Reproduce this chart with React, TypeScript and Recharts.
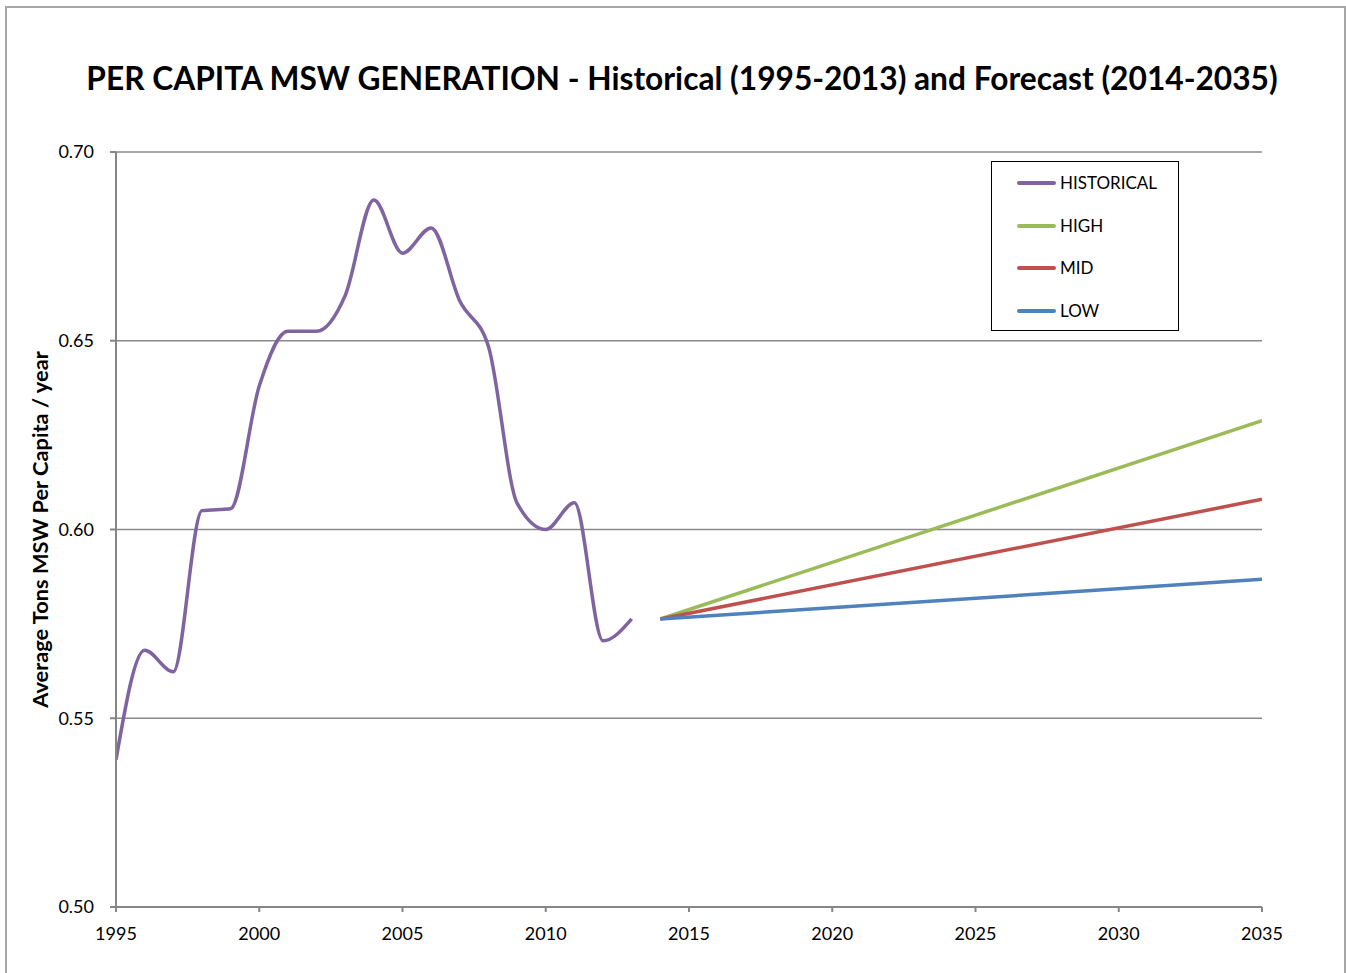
import React from 'react';
import { LineChart, Line, XAxis, YAxis, CartesianGrid, Legend } from 'recharts';

const historicalYears = [1995, 1996, 1997, 1998, 1999, 2000, 2001, 2002, 2003, 2004, 2005, 2006, 2007, 2008, 2009, 2010, 2011, 2012, 2013];
const historicalValues = [0.539, 0.568, 0.5623, 0.605, 0.6055, 0.638, 0.6525, 0.6525, 0.662, 0.6873, 0.6732, 0.6799, 0.6605, 0.6485, 0.607, 0.6, 0.6071, 0.5705, 0.5763];
const forecastYears = [2014, 2035];
const highValues = [0.5763, 0.6288];
const midValues = [0.5763, 0.608];
const lowValues = [0.5763, 0.5868];
const xTicks = [1995, 2000, 2005, 2010, 2015, 2020, 2025, 2030, 2035];
const yTicks = [0.5, 0.55, 0.6, 0.65, 0.7];

const seriesNames = ['HISTORICAL', 'HIGH', 'MID', 'LOW'];
const seriesColors = ['#8064A2', '#9BBB59', '#C0504D', '#4F81BD'];

const toData = (years: number[], vals: number[]) => years.map((y, i) => ({ year: y, value: vals[i] }));
const historicalData = toData(historicalYears, historicalValues);
const highData = toData(forecastYears, highValues);
const midData = toData(forecastYears, midValues);
const lowData = toData(forecastYears, lowValues);

const FONT = 'Lato, "Open Sans", sans-serif';

const LegendBox = () => (
  <div
    style={{
      width: 188,
      height: 170,
      boxSizing: 'border-box',
      border: '1.5px solid #000',
      background: '#fff',
      position: 'relative',
      fontFamily: FONT,
    }}
  >
    {seriesNames.map((n, i) => (
      <div key={n} style={{ position: 'absolute', left: 25, top: 21 + i * 42.5 - 10, height: 20, display: 'flex', alignItems: 'center' }}>
        <div style={{ width: 39, height: 4, borderRadius: 2, background: seriesColors[i] }} />
        <span style={{ marginLeft: 4, fontSize: 17, color: '#000', lineHeight: '20px' }}>{n}</span>
      </div>
    ))}
  </div>
);

export default function App() {
  return (
    <div style={{ position: 'absolute', left: 0, top: 0, width: 1346, height: 973, overflow: 'hidden', background: '#fff' }}>
      <div style={{ position: 'absolute', left: 5, top: 6, width: 1341, height: 1000, border: '2px solid #a6a6a6', boxSizing: 'border-box' }} />
      <div
        style={{
          position: 'absolute',
          left: 0,
          top: 59,
          width: 1364,
          textAlign: 'center',
          fontFamily: FONT,
          fontWeight: 700,
          fontSize: 31.7,
          color: '#000',
          whiteSpace: 'nowrap',
        }}
      >
        PER CAPITA MSW GENERATION - Historical (1995-2013) and Forecast (2014-2035)
      </div>
      <div style={{ position: 'absolute', left: 0, top: 0 }}>
        <LineChart width={1346} height={973} margin={{ top: 152, right: 84, bottom: 26, left: 46 }}>
          <CartesianGrid vertical={false} stroke="#8a8a8a" strokeWidth={1.3} />
          <XAxis
            type="number"
            dataKey="year"
            domain={[1995, 2035]}
            ticks={xTicks}
            allowDataOverflow
            height={40}
            tickSize={5}
            tickMargin={15}
            stroke="#868686"
            strokeWidth={2}
            tick={{ fill: '#000', fontSize: 18, fontFamily: FONT }}
          />
          <YAxis
            type="number"
            domain={[0.5, 0.7]}
            ticks={yTicks}
            width={70}
            tickSize={6}
            tickMargin={16}
            stroke="#868686"
            strokeWidth={2}
            tickFormatter={(v: number) => v.toFixed(2)}
            tick={{ fill: '#000', fontSize: 18, fontFamily: FONT }}
            label={{
              value: 'Average Tons MSW Per Capita / year',
              angle: -90,
              position: 'insideLeft',
              offset: -6,
              style: { textAnchor: 'middle', fontFamily: FONT, fontWeight: 700, fontSize: 21.8, fill: '#000' },
            }}
          />
          <Legend
            layout="vertical"
            align="center"
            verticalAlign="middle"
            wrapperStyle={{ left: 991, top: 161, width: 188, height: 170 }}
            content={() => <LegendBox />}
          />
          <Line data={historicalData} dataKey="value" name={seriesNames[0]} type="monotone" stroke={seriesColors[0]} strokeWidth={3.5} dot={false} isAnimationActive={false} />
          <Line data={highData} dataKey="value" name={seriesNames[1]} type="linear" stroke={seriesColors[1]} strokeWidth={3.5} dot={false} isAnimationActive={false} />
          <Line data={midData} dataKey="value" name={seriesNames[2]} type="linear" stroke={seriesColors[2]} strokeWidth={3.5} dot={false} isAnimationActive={false} />
          <Line data={lowData} dataKey="value" name={seriesNames[3]} type="linear" stroke={seriesColors[3]} strokeWidth={3.5} dot={false} isAnimationActive={false} />
        </LineChart>
      </div>
    </div>
  );
}
